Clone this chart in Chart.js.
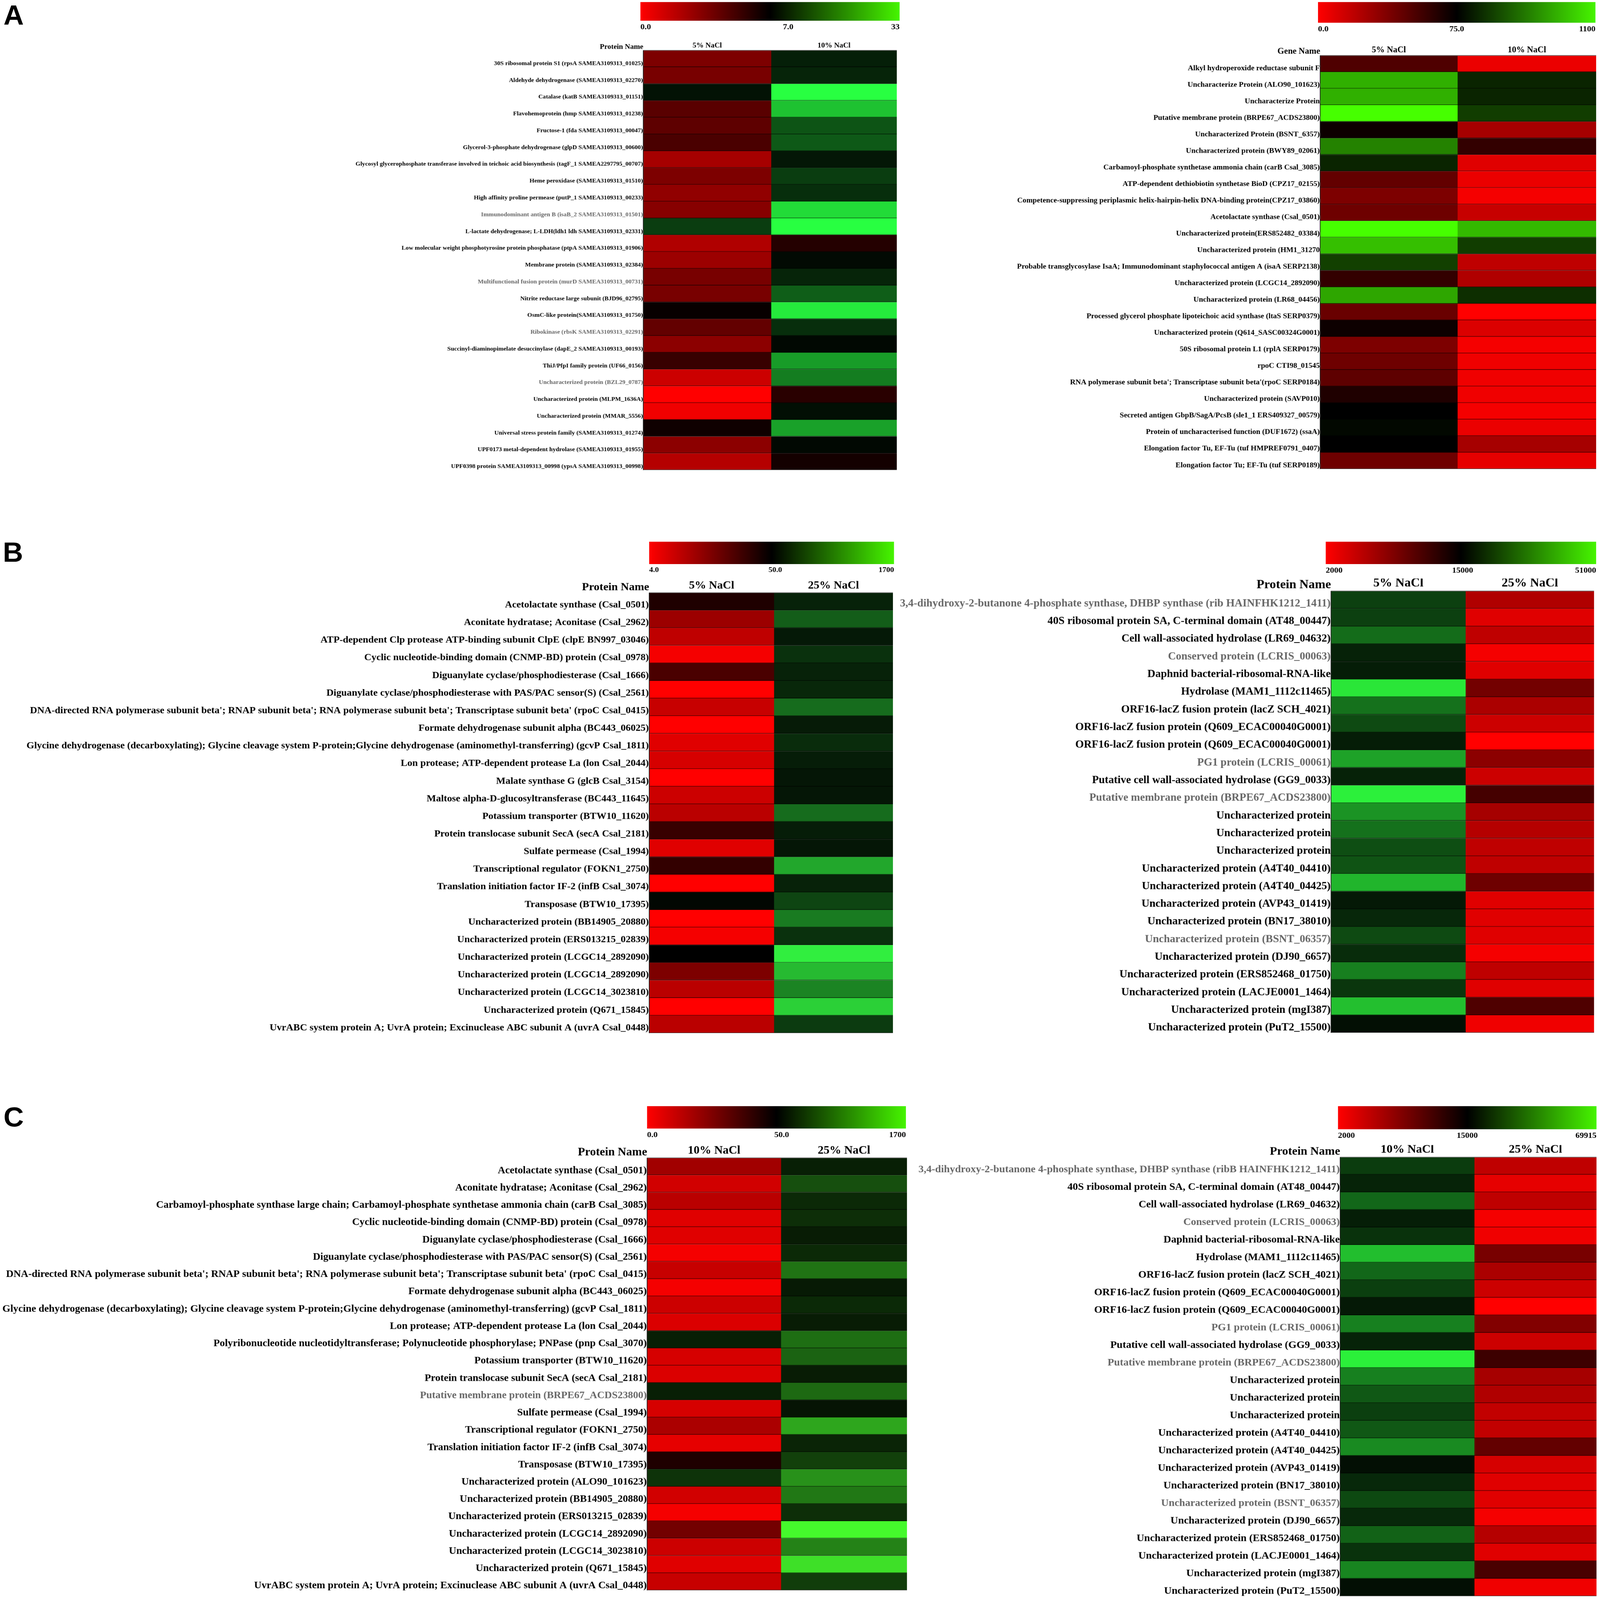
<!DOCTYPE html>
<html><head><meta charset="utf-8">
<script src="https://cdn.jsdelivr.net/npm/chart.js@4"></script>
<style>
html,body{margin:0;padding:0;background:#fff;overflow:hidden}
#page{position:absolute;left:0;top:0;width:4562px;height:4646px;background:#fff;overflow:hidden;transform-origin:0 0}
canvas{position:absolute;display:block}
.letter{position:absolute;font:bold 80px "Liberation Sans",sans-serif;line-height:1;color:#000}
</style></head><body><div id="page"></div>
<script>
/* ---------- DATA: labels ---------- */
const a1Names=["30S ribosomal protein S1 (rpsA SAMEA3109313_01025)","Aldehyde dehydrogenase (SAMEA3109313_02270)","Catalase (katB SAMEA3109313_01151)","Flavohemoprotein (hmp SAMEA3109313_01238)","Fructose-1 (fda SAMEA3109313_00047)","Glycerol-3-phosphate dehydrogenase (glpD SAMEA3109313_00600)","Glycosyl glycerophosphate transferase involved in teichoic acid biosynthesis (tagF_1 SAMEA2297795_00707)","Heme peroxidase (SAMEA3109313_01510)","High affinity proline permease (putP_1 SAMEA3109313_00233)","Immunodominant antigen B (isaB_2 SAMEA3109313_01501)","L-lactate dehydrogenase; L-LDH(ldh1 ldh SAMEA3109313_02331)","Low molecular weight phosphotyrosine protein phosphatase (ptpA SAMEA3109313_01906)","Membrane protein (SAMEA3109313_02384)","Multifunctional fusion protein (murD SAMEA3109313_00731)","Nitrite reductase large subunit (BJD96_02795)","OsmC-like protein(SAMEA3109313_01750)","Ribokinase (rbsK SAMEA3109313_02291)","Succinyl-diaminopimelate desuccinylase (dapE_2 SAMEA3109313_00193)","ThiJ/PfpI family protein (UF66_0156)","Uncharacterized protein (BZL29_0787)","Uncharacterized protein (MLPM_1636A)","Uncharacterized protein (MMAR_5556)","Universal stress protein family (SAMEA3109313_01274)","UPF0173 metal-dependent hydrolase (SAMEA3109313_01955)","UPF0398 protein SAMEA3109313_00998 (ypsA SAMEA3109313_00998)"];
const a2Names=["Alkyl hydroperoxide reductase subunit F","Uncharacterize Protein (ALO90_101623)","Uncharacterize Protein","Putative membrane protein (BRPE67_ACDS23800)","Uncharacterized Protein (BSNT_6357)","Uncharacterized protein (BWY89_02061)","Carbamoyl-phosphate synthetase ammonia chain (carB Csal_3085)","ATP-dependent dethiobiotin synthetase BioD (CPZ17_02155)","Competence-suppressing periplasmic helix-hairpin-helix DNA-binding protein(CPZ17_03860)","Acetolactate synthase (Csal_0501)","Uncharacterized protein(ERS852482_03384)","Uncharacterized protein (HM1_31270","Probable transglycosylase IsaA; Immunodominant staphylococcal antigen A (isaA SERP2138)","Uncharacterized protein (LCGC14_2892090)","Uncharacterized protein (LR68_04456)","Processed glycerol phosphate lipoteichoic acid synthase (ltaS SERP0379)","Uncharacterized protein (Q614_SASC00324G0001)","50S ribosomal protein L1 (rplA SERP0179)","rpoC CTI98_01545","RNA polymerase subunit beta'; Transcriptase subunit beta'(rpoC SERP0184)","Uncharacterized protein (SAVP010)","Secreted antigen GbpB/SagA/PcsB (sle1_1 ERS409327_00579)","Protein of uncharacterised function (DUF1672) (ssaA)","Elongation factor Tu, EF-Tu (tuf HMPREF0791_0407)","Elongation factor Tu; EF-Tu (tuf SERP0189)"];
const b1Names=["Acetolactate synthase (Csal_0501)","Aconitate hydratase; Aconitase (Csal_2962)","ATP-dependent Clp protease ATP-binding subunit ClpE (clpE BN997_03046)","Cyclic nucleotide-binding domain (CNMP-BD) protein (Csal_0978)","Diguanylate cyclase/phosphodiesterase (Csal_1666)","Diguanylate cyclase/phosphodiesterase with PAS/PAC sensor(S) (Csal_2561)","DNA-directed RNA polymerase subunit beta'; RNAP subunit beta'; RNA polymerase subunit beta'; Transcriptase subunit beta' (rpoC Csal_0415)","Formate dehydrogenase subunit alpha (BC443_06025)","Glycine dehydrogenase (decarboxylating); Glycine cleavage system P-protein;Glycine dehydrogenase (aminomethyl-transferring) (gcvP Csal_1811)","Lon protease; ATP-dependent protease La (lon Csal_2044)","Malate synthase G (glcB Csal_3154)","Maltose alpha-D-glucosyltransferase (BC443_11645)","Potassium transporter (BTW10_11620)","Protein translocase subunit SecA (secA Csal_2181)","Sulfate permease (Csal_1994)","Transcriptional regulator (FOKN1_2750)","Translation initiation factor IF-2 (infB Csal_3074)","Transposase (BTW10_17395)","Uncharacterized protein (BB14905_20880)","Uncharacterized protein (ERS013215_02839)","Uncharacterized protein (LCGC14_2892090)","Uncharacterized protein (LCGC14_2892090)","Uncharacterized protein (LCGC14_3023810)","Uncharacterized protein (Q671_15845)","UvrABC system protein A; UvrA protein; Excinuclease ABC subunit A (uvrA Csal_0448)"];
const b2Names=["3,4-dihydroxy-2-butanone 4-phosphate synthase, DHBP synthase (rib HAINFHK1212_1411)","40S ribosomal protein SA, C-terminal domain (AT48_00447)","Cell wall-associated hydrolase (LR69_04632)","Conserved protein (LCRIS_00063)","Daphnid bacterial-ribosomal-RNA-like","Hydrolase (MAM1_1112c11465)","ORF16-lacZ fusion protein (lacZ SCH_4021)","ORF16-lacZ fusion protein (Q609_ECAC00040G0001)","ORF16-lacZ fusion protein (Q609_ECAC00040G0001)","PG1 protein (LCRIS_00061)","Putative cell wall-associated hydrolase (GG9_0033)","Putative membrane protein (BRPE67_ACDS23800)","Uncharacterized protein","Uncharacterized protein","Uncharacterized protein","Uncharacterized protein (A4T40_04410)","Uncharacterized protein (A4T40_04425)","Uncharacterized protein (AVP43_01419)","Uncharacterized protein (BN17_38010)","Uncharacterized protein (BSNT_06357)","Uncharacterized protein (DJ90_6657)","Uncharacterized protein (ERS852468_01750)","Uncharacterized protein (LACJE0001_1464)","Uncharacterized protein (mgI387)","Uncharacterized protein (PuT2_15500)"];
const c1Names=["Acetolactate synthase (Csal_0501)","Aconitate hydratase; Aconitase (Csal_2962)","Carbamoyl-phosphate synthase large chain; Carbamoyl-phosphate synthetase ammonia chain (carB Csal_3085)","Cyclic nucleotide-binding domain (CNMP-BD) protein (Csal_0978)","Diguanylate cyclase/phosphodiesterase (Csal_1666)","Diguanylate cyclase/phosphodiesterase with PAS/PAC sensor(S) (Csal_2561)","DNA-directed RNA polymerase subunit beta'; RNAP subunit beta'; RNA polymerase subunit beta'; Transcriptase subunit beta' (rpoC Csal_0415)","Formate dehydrogenase subunit alpha (BC443_06025)","Glycine dehydrogenase (decarboxylating); Glycine cleavage system P-protein;Glycine dehydrogenase (aminomethyl-transferring) (gcvP Csal_1811)","Lon protease; ATP-dependent protease La (lon Csal_2044)","Polyribonucleotide nucleotidyltransferase; Polynucleotide phosphorylase; PNPase (pnp Csal_3070)","Potassium transporter (BTW10_11620)","Protein translocase subunit SecA (secA Csal_2181)","Putative membrane protein (BRPE67_ACDS23800)","Sulfate permease (Csal_1994)","Transcriptional regulator (FOKN1_2750)","Translation initiation factor IF-2 (infB Csal_3074)","Transposase (BTW10_17395)","Uncharacterized protein (ALO90_101623)","Uncharacterized protein (BB14905_20880)","Uncharacterized protein (ERS013215_02839)","Uncharacterized protein (LCGC14_2892090)","Uncharacterized protein (LCGC14_3023810)","Uncharacterized protein (Q671_15845)","UvrABC system protein A; UvrA protein; Excinuclease ABC subunit A (uvrA Csal_0448)"];
const c2Names=["3,4-dihydroxy-2-butanone 4-phosphate synthase, DHBP synthase (ribB HAINFHK1212_1411)","40S ribosomal protein SA, C-terminal domain (AT48_00447)","Cell wall-associated hydrolase (LR69_04632)","Conserved protein (LCRIS_00063)","Daphnid bacterial-ribosomal-RNA-like","Hydrolase (MAM1_1112c11465)","ORF16-lacZ fusion protein (lacZ SCH_4021)","ORF16-lacZ fusion protein (Q609_ECAC00040G0001)","ORF16-lacZ fusion protein (Q609_ECAC00040G0001)","PG1 protein (LCRIS_00061)","Putative cell wall-associated hydrolase (GG9_0033)","Putative membrane protein (BRPE67_ACDS23800)","Uncharacterized protein","Uncharacterized protein","Uncharacterized protein","Uncharacterized protein (A4T40_04410)","Uncharacterized protein (A4T40_04425)","Uncharacterized protein (AVP43_01419)","Uncharacterized protein (BN17_38010)","Uncharacterized protein (BSNT_06357)","Uncharacterized protein (DJ90_6657)","Uncharacterized protein (ERS852468_01750)","Uncharacterized protein (LACJE0001_1464)","Uncharacterized protein (mgI387)","Uncharacterized protein (PuT2_15500)"];

/* ---------- DATA: heat levels (-100 = low end, 0 = midpoint, +100 = high end) ---------- */
const a1Col1=[-49,-47,7,-35,-37,-29,-65,-49,-57,-53,24,-69,-61,-47,-47,-3,-39,-55,-22,-80,-100,-94,-6,-55,-71];
const a1Col2=[12,14,100,76,33,35,9,24,18,86,100,-14,4,14,37,92,18,3,61,49,-16,6,63,3,-8];
const a2Col1=[-31,69,69,100,-5,51,14,-39,-49,-43,100,75,25,-20,65,-41,-5,-49,-43,-37,-12,0,3,0,-43];
const a2Col2=[-92,14,14,24,-65,-20,-88,-92,-96,-78,73,24,-75,-69,18,-100,-86,-96,-94,-94,-94,-96,-92,-65,-90];
const b1Col1=[-12,-61,-75,-96,-29,-100,-78,-100,-88,-84,-100,-80,-73,-22,-88,-20,-100,3,-100,-96,0,-49,-73,-100,-73];
const b1Col2=[14,38,10,20,14,16,44,11,18,12,9,9,44,12,9,68,14,28,50,20,97,76,54,85,24];
const b2Col1=[26,26,44,14,12,94,46,30,12,66,14,98,60,46,32,34,74,10,16,30,18,52,22,78,6];
const b2Col2=[-69,-88,-75,-96,-88,-45,-67,-80,-100,-55,-80,-27,-65,-71,-75,-75,-43,-88,-88,-88,-96,-75,-88,-31,-94];
const c1Col1=[-63,-82,-73,-88,-88,-96,-78,-96,-80,-86,12,-84,-86,12,-84,-67,-90,-12,20,-82,-96,-45,-80,-88,-78];
const c1Col2=[12,31,16,18,11,16,45,10,16,11,43,39,11,41,8,65,14,25,57,47,18,98,51,88,24];
const c2Col1=[24,14,41,12,20,76,41,25,10,51,14,96,51,35,25,35,55,6,16,29,16,39,20,53,6];
const c2Col2=[-75,-90,-75,-96,-94,-47,-67,-80,-100,-51,-80,-24,-65,-69,-76,-76,-39,-84,-88,-88,-96,-71,-88,-29,-94];

/* ---------- DATA: colour-scale tick labels and column labels ---------- */
const a1Ticks=["0.0","7.0","33"], a2Ticks=["0.0","75.0","1100"];
const b1Ticks=["4.0","50.0","1700"], b2Ticks=["2000","15000","51000"];
const c1Ticks=["0.0","50.0","1700"], c2Ticks=["2000","15000","69915"];
const a1Cols=["5% NaCl","10% NaCl"], b1Cols=["5% NaCl","25% NaCl"], c1Cols=["10% NaCl","25% NaCl"];

/* ---------- layout ---------- */
const panels=[
 {names:a1Names,c1:a1Col1,c2:a1Col2,cols:a1Cols,corner:"Protein Name",ticks:a1Ticks,grey:[9,13,16,19],green:[40,255,65],
  left:0,x0:1834,xs:2199,x1:2557,top:146,bottom:1365,headTop:120,font:17.6,headFont:21,off:14,
  bar:{x0:1826,x1:2565,y0:6,y1:60,mid:.57,font:24,h:36}},
 {names:a2Names,c1:a2Col1,c2:a2Col2,cols:a1Cols,corner:"Gene Name",ticks:a2Ticks,grey:[],green:[70,255,0],
  left:2880,x0:3764,xs:4156,x1:4551,top:161,bottom:1362,headTop:130,font:21.5,headFont:24.5,off:13,
  bar:{x0:3758,x1:4549,y0:6,y1:66,mid:.5,font:24,h:36}},
 {names:b1Names,c1:b1Col1,c2:b1Col2,cols:b1Cols,corner:"Protein Name",ticks:b1Ticks,grey:[],green:[50,245,65],
  left:0,x0:1851,xs:2207,x1:2546,top:1721,bottom:3000,headTop:1685,font:28.3,headFont:32.5,off:10,
  bar:{x0:1851,x1:2549,y0:1573,y1:1638,mid:.515,font:22,h:36}},
 {names:b2Names,c1:b2Col1,c2:b2Col2,cols:b1Cols,corner:"Protein Name",ticks:b2Ticks,grey:[0,3,9,11,19],green:[45,245,60],
  left:2550,x0:3795,xs:4179,x1:4545,top:1716,bottom:2999,headTop:1680,font:31.2,headFont:36,off:11,
  bar:{x0:3780,x1:4551,y0:1573,y1:1638,mid:.506,font:24,h:36}},
 {names:c1Names,c1:c1Col1,c2:c1Col2,cols:c1Cols,corner:"Protein Name",ticks:c1Ticks,grey:[13],green:[70,255,45],
  left:0,x0:1845,xs:2227,x1:2586,top:3362,bottom:4618,headTop:3325,font:29.3,headFont:33.5,off:12,
  bar:{x0:1845,x1:2583,y0:3212,y1:3277,mid:.52,font:24,h:36}},
 {names:c2Names,c1:c2Col1,c2:c2Col2,cols:c1Cols,corner:"Protein Name",ticks:c2Ticks,grey:[0,3,9,11,19],green:[45,250,60],
  left:2600,x0:3821,xs:4204,x1:4552,top:3360,bottom:4635,headTop:3325,font:30,headFont:34,off:11,
  bar:{x0:3815,x1:4552,y0:3212,y1:3279,mid:.5,font:24,h:36}}
];
const letters=[["A",10,4],["B",8,1564],["C",10,3204]];
const FAMILY='"Liberation Serif","Times New Roman",serif';
const page=document.getElementById('page');
/* the window may be smaller than the chart's design size: fit the whole page into it */
page.style.transform=`scale(${Math.min(1,innerWidth/4562)},${Math.min(1,innerHeight/4646)})`;

Chart.defaults.animation=false;
Chart.defaults.responsive=false;
Chart.defaults.devicePixelRatio=1;

function levelColor(v,g,k=1){
  const t=Math.min(1,Math.abs(v)/100)*k;
  const c=v<0?[255,0,0]:g;
  return `rgb(${Math.round(c[0]*t)},${Math.round(c[1]*t)},${Math.round(c[2]*t)})`;
}
function addCanvas(x,y,w,h){
  const c=document.createElement('canvas');
  c.width=w;c.height=h;c.style.left=x+'px';c.style.top=y+'px';c.style.width=w+'px';c.style.height=h+'px';
  page.appendChild(c);return c;
}
function clearPad(s){s.paddingLeft=s.paddingRight=s.paddingTop=s.paddingBottom=0;}

const frame={id:'frame',afterDraw(ch,a,o){
  const {ctx,chartArea:r}=ch;
  ctx.save();
  ctx.fillStyle='#777';
  ctx.fillRect(r.left,r.top-1,r.right-r.left,2);
  ctx.fillRect(r.left,r.bottom-1,r.right-r.left,2);
  ctx.fillStyle='#222';
  ctx.fillRect(r.left-1,r.top,2,r.bottom-r.top);
  ctx.fillStyle='#000';
  ctx.font=`bold ${o.size}px ${FAMILY}`;
  ctx.textAlign='right';ctx.textBaseline='bottom';
  ctx.fillText(o.text,r.left,r.top+o.dy);
  ctx.restore();
}};

panels.forEach(p=>{
  const w=p.x1-p.left, h=p.bottom-p.headTop;
  const split=(p.xs-p.x0)/(p.x1-p.x0);
  const grey=new Set(p.grey);
  const cell=(vals,span)=>({data:vals.map(()=>span),
    backgroundColor:vals.map(v=>levelColor(v,p.green)),
    borderColor:vals.map(v=>levelColor(v,p.green,.4)),
    borderWidth:{top:0,left:0,right:0,bottom:2},borderSkipped:false,
    barPercentage:1,categoryPercentage:1});
  new Chart(addCanvas(p.left,p.headTop,w,h),{type:'bar',
    data:{labels:p.names,datasets:[cell(p.c1,split),cell(p.c2,1-split)]},
    options:{indexAxis:'y',layout:{padding:0},
      plugins:{legend:{display:false},tooltip:{enabled:false},
        frame:{text:p.corner,size:p.headFont,dy:1}},
      scales:{
        x:{position:'top',stacked:true,min:0,max:1,
          grid:{display:false,drawTicks:false},border:{display:false},
          afterBuildTicks:s=>{s.ticks=[{value:split/2},{value:split+(1-split)/2}];},
          afterFit:s=>{s.height=p.top-p.headTop;clearPad(s);},
          ticks:{autoSkip:false,maxRotation:0,padding:1,color:'#000',
            font:{family:FAMILY,weight:'bold',size:p.headFont},
            callback:(v,i)=>p.cols[i]}},
        y:{stacked:true,
          grid:{display:false,drawTicks:false},border:{display:false},
          afterFit:s=>{s.width=p.x0-p.left;clearPad(s);},
          ticks:{autoSkip:false,padding:1,labelOffset:p.off,
            color:c=>grey.has(c.index)?'#666':'#000',
            font:{family:FAMILY,weight:'bold',size:p.font}}}
      }},
    plugins:[frame]});

  const b=p.bar;
  new Chart(addCanvas(b.x0,b.y0,b.x1-b.x0,b.y1-b.y0+b.h),{type:'bar',
    data:{labels:['scale'],datasets:[{data:[1],barPercentage:1,categoryPercentage:1,
      backgroundColor:c=>{
        const a=c.chart.chartArea; if(!a) return '#000';
        const g=c.chart.ctx.createLinearGradient(a.left,0,a.right,0);
        g.addColorStop(0,'rgb(255,0,0)');g.addColorStop(.5,'rgb(0,0,0)');g.addColorStop(1,'rgb(70,245,0)');
        return g;
      }}]},
    options:{indexAxis:'y',layout:{padding:0},
      plugins:{legend:{display:false},tooltip:{enabled:false}},
      scales:{
        y:{display:false},
        x:{min:0,max:1,grid:{display:false,drawTicks:false},border:{display:false},
          afterBuildTicks:s=>{s.ticks=[{value:0},{value:b.mid},{value:1}];},
          afterFit:s=>{s.height=b.h;clearPad(s);},
          ticks:{align:'inner',autoSkip:false,maxRotation:0,padding:4,color:'#000',
            font:{family:FAMILY,weight:'bold',size:b.font},
            callback:(v,i)=>p.ticks[i]}}
      }}});
});
letters.forEach(([t,x,y])=>{
  const d=document.createElement('div');d.className='letter';d.textContent=t;
  d.style.left=x+'px';d.style.top=y+'px';page.appendChild(d);
});
</script></body></html>
